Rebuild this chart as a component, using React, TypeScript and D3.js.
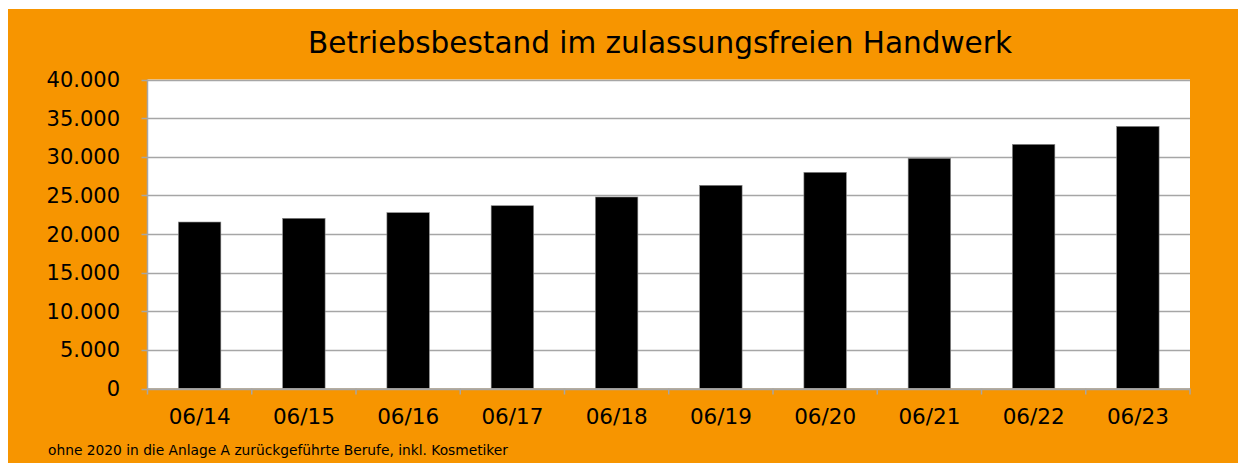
import React, { useRef, useEffect } from 'react';
import * as d3 from 'd3';

const categories = ['06/14', '06/15', '06/16', '06/17', '06/18', '06/19', '06/20', '06/21', '06/22', '06/23'];
const values = [21550, 22030, 22760, 23660, 24790, 26300, 27980, 29790, 31600, 33930];
const yTicks = [0, 5000, 10000, 15000, 20000, 25000, 30000, 35000, 40000];

const title = 'Betriebsbestand im zulassungsfreien Handwerk';
const footnote = 'ohne 2020 in die Anlage A zurückgeführte Berufe, inkl. Kosmetiker';

const App = () => {
  const ref = useRef(null);

  useEffect(() => {
    const width = 1238;
    const height = 463;
    const plot = { left: 147.5, right: 1190, top: 79.5, bottom: 388.5 };
    const orange = '#F79500';
    const grid = '#A6A6A6';

    const svg = d3.select(ref.current);
    svg.selectAll('*').remove();

    // background
    svg.append('rect')
      .attr('x', 8).attr('y', 9)
      .attr('width', width - 8).attr('height', height - 9)
      .attr('fill', orange);

    svg.append('rect')
      .attr('x', plot.left).attr('y', plot.top)
      .attr('width', plot.right - plot.left).attr('height', plot.bottom - plot.top)
      .attr('fill', '#fff');

    const x = d3.scaleBand()
      .domain(categories)
      .range([plot.left, plot.right])
      .paddingInner(0.593)
      .paddingOuter(0.2965);

    const y = d3.scaleLinear().domain([0, 40000]).range([plot.bottom, plot.top]);

    // gridlines
    svg.append('g')
      .selectAll('line')
      .data(yTicks)
      .enter()
      .append('line')
      .attr('x1', plot.left - 6)
      .attr('x2', plot.right)
      .attr('y1', d => Math.round(y(d)) + 0.5)
      .attr('y2', d => Math.round(y(d)) + 0.5)
      .attr('stroke', grid)
      .attr('stroke-width', 1.5);

    // bars
    svg.append('g')
      .selectAll('rect')
      .data(values)
      .enter()
      .append('rect')
      .attr('x', (d, i) => x(categories[i]))
      .attr('y', d => y(d))
      .attr('width', x.bandwidth())
      .attr('height', d => plot.bottom - y(d))
      .attr('fill', '#000')
      .attr('stroke', '#888')
      .attr('stroke-width', 0.6);

    // y axis line
    svg.append('line')
      .attr('x1', plot.left).attr('x2', plot.left)
      .attr('y1', plot.top).attr('y2', plot.bottom)
      .attr('stroke', grid).attr('stroke-width', 1.5);

    // x axis line + ticks
    svg.append('line')
      .attr('x1', plot.left).attr('x2', plot.right)
      .attr('y1', plot.bottom + 0.5).attr('y2', plot.bottom + 0.5)
      .attr('stroke', grid).attr('stroke-width', 1.5);

    const step = x.step();
    svg.append('g')
      .selectAll('line')
      .data(d3.range(categories.length + 1))
      .enter()
      .append('line')
      .attr('x1', i => plot.left + i * step)
      .attr('x2', i => plot.left + i * step)
      .attr('y1', plot.bottom)
      .attr('y2', plot.bottom + 6)
      .attr('stroke', grid)
      .attr('stroke-width', 1.5);

    const fmt = d3.formatLocale({ decimal: ',', thousands: '.', grouping: [3], currency: ['', '€'] }).format(',d');

    svg.append('g')
      .selectAll('text')
      .data(yTicks)
      .enter()
      .append('text')
      .attr('x', 120)
      .attr('y', d => y(d) + 7.5)
      .attr('text-anchor', 'end')
      .style('font-family', 'DejaVu Sans')
      .style('font-size', '21px')
      .attr('fill', '#000')
      .text(d => fmt(d));

    svg.append('g')
      .selectAll('text')
      .data(categories)
      .enter()
      .append('text')
      .attr('x', d => x(d) + x.bandwidth() / 2)
      .attr('y', 424)
      .attr('text-anchor', 'middle')
      .style('font-family', 'DejaVu Sans')
      .style('font-size', '21.5px')
      .attr('fill', '#000')
      .text(d => d);

    svg.append('text')
      .attr('x', 660)
      .attr('y', 53)
      .attr('text-anchor', 'middle')
      .attr('textLength', 704)
      .attr('lengthAdjust', 'spacingAndGlyphs')
      .style('font-family', 'DejaVu Sans')
      .style('font-size', '31px')
      .attr('fill', '#000')
      .text(title);

    svg.append('text')
      .attr('x', 48)
      .attr('y', 455)
      .attr('textLength', 460)
      .attr('lengthAdjust', 'spacingAndGlyphs')
      .style('font-family', 'DejaVu Sans')
      .style('font-size', '14px')
      .attr('fill', '#000')
      .text(footnote);
  }, []);

  return (
    <svg
      ref={ref}
      width={1238}
      height={463}
      style={{ position: 'absolute', left: 0, top: 0, display: 'block' }}
    />
  );
};

export default App;
